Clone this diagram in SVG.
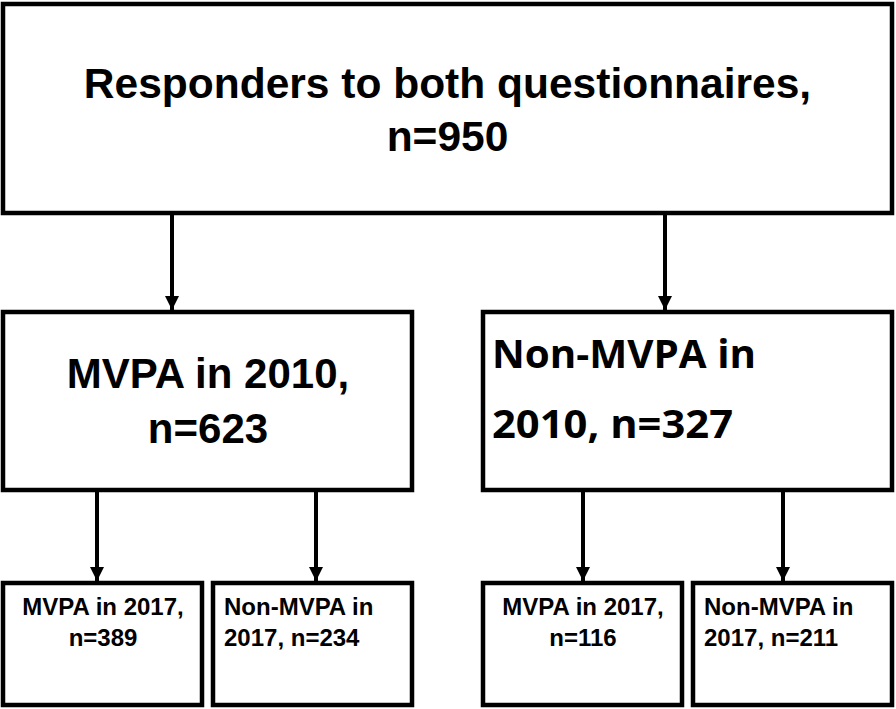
<svg xmlns="http://www.w3.org/2000/svg" width="896" height="709" viewBox="0 0 896 709">
<defs>
<style>
.box{fill:#fff;stroke:#000;stroke-width:4.5}
.t{font-family:"Liberation Sans",Arial,sans-serif;font-weight:bold;fill:#000}
.c{font-family:"Open Sans","Liberation Sans",sans-serif;font-weight:bold;fill:#000}
.big{font-size:42.5px}
.mid{font-size:42px}
.sm{font-size:24px}
.ln{stroke:#000;stroke-width:4;fill:none}
</style>
<marker id="ah" markerUnits="userSpaceOnUse" markerWidth="16" markerHeight="14" refX="14" refY="7" orient="auto">
<path d="M0,0 L14,7 L0,14 Z" fill="#000"/>
</marker>
</defs>
<rect width="896" height="709" fill="#fff"/>
<g id="connectors">
<line class="ln" x1="172" y1="213" x2="172" y2="310" marker-end="url(#ah)"/>
<line class="ln" x1="665" y1="213" x2="665" y2="310" marker-end="url(#ah)"/>
<line class="ln" x1="97" y1="490" x2="97" y2="581" marker-end="url(#ah)"/>
<line class="ln" x1="316" y1="490" x2="316" y2="581" marker-end="url(#ah)"/>
<line class="ln" x1="583" y1="490" x2="583" y2="581" marker-end="url(#ah)"/>
<line class="ln" x1="783" y1="490" x2="783" y2="581" marker-end="url(#ah)"/>
</g>
<g id="top">
<rect class="box" x="3" y="4" width="889" height="209"/>
<text class="t big" x="447.5" y="98" text-anchor="middle">Responders to both questionnaires,</text>
<text class="t big" x="447.5" y="151" text-anchor="middle">n=950</text>
</g>
<g id="mvpa2010">
<rect class="box" x="3" y="312" width="409" height="178"/>
<text class="t mid" x="208" y="388" text-anchor="middle">MVPA in 2010,</text>
<text class="t mid" x="208" y="443" text-anchor="middle">n=623</text>
</g>
<g id="nonmvpa2010">
<rect class="box" x="483" y="312" width="409" height="178"/>
<text class="c" font-size="39" x="492" y="368" textLength="264" lengthAdjust="spacingAndGlyphs">Non-MVPA in</text>
<text class="c" font-size="39" x="492" y="438" textLength="241" lengthAdjust="spacingAndGlyphs">2010, n=327</text>
</g>
<g id="m_m">
<rect class="box" x="3" y="583" width="199" height="122"/>
<text class="t sm" x="103" y="615" text-anchor="middle">MVPA in 2017,</text>
<text class="t sm" x="103" y="646" text-anchor="middle">n=389</text>
</g>
<g id="m_n">
<rect class="box" x="213" y="583" width="199" height="122"/>
<text class="t sm" x="224" y="615">Non-MVPA in</text>
<text class="t sm" x="224" y="646">2017, n=234</text>
</g>
<g id="n_m">
<rect class="box" x="483" y="583" width="199" height="122"/>
<text class="t sm" x="583" y="615" text-anchor="middle">MVPA in 2017,</text>
<text class="t sm" x="583" y="646" text-anchor="middle">n=116</text>
</g>
<g id="n_n">
<rect class="box" x="693" y="583" width="199" height="122"/>
<text class="t sm" x="704" y="615">Non-MVPA in</text>
<text class="t sm" x="704" y="646">2017, n=211</text>
</g>
</svg>
